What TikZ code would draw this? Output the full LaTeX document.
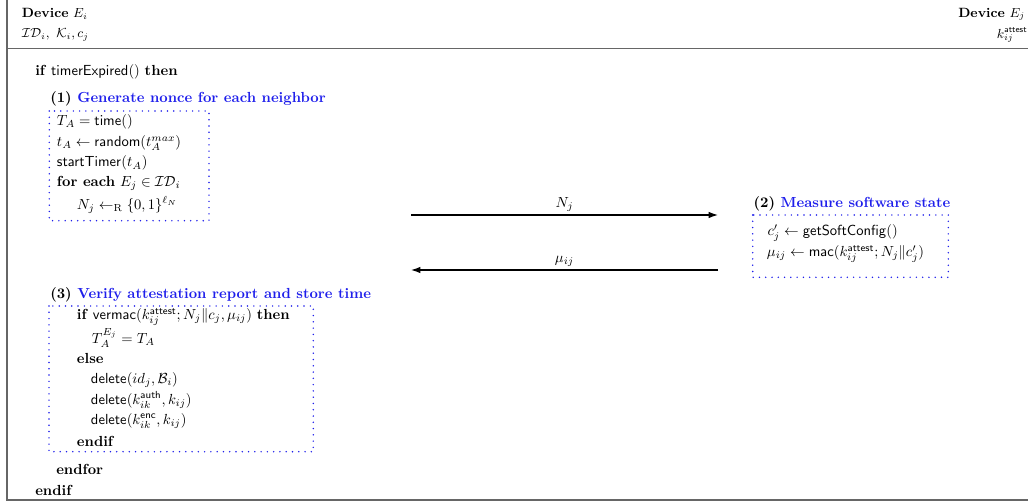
\documentclass[tikz,border=0pt]{standalone}
\usepackage{amsmath,amssymb}
\usetikzlibrary{arrows.meta}
\definecolor{hblue}{RGB}{30,30,235}
\begin{document}
\begin{tikzpicture}[x=0.685pt,y=-0.685pt,
  txt/.style={anchor=west,inner sep=0pt,font=\fontsize{10}{12}\selectfont},
  hdr/.style={anchor=west,inner sep=0pt,font=\fontsize{9.2}{11}\selectfont},
  head/.style={anchor=west,inner sep=0pt,font=\fontsize{10}{12}\selectfont\bfseries},
  dotbox/.style={draw=hblue,line width=1.1pt,line cap=round,dash pattern=on 0pt off 4.3pt},
  frame/.style={draw=black!60,line width=1.1pt},
  msg/.style={draw=black,line width=0.8pt,-{Latex[length=6.5pt,width=4.5pt]}},
  lbl/.style={font=\fontsize{10}{12}\selectfont,inner sep=2pt}]
\useasboundingbox (0,0) rectangle (1028,501);
\clip (0,0) rectangle (1028,501);
% frame
\draw[frame] (7,0) -- (7,500) -- (1030,500);
\draw[frame] (7,48.5) -- (1030,48.5);
% header
\node[hdr] (hdi) at (21.7,14) {\textbf{Device} $E_i$};
\node[hdr] (hki) at (21.7,35) {$\mathcal{ID}_i,\ \mathcal{K}_i, c_j$};
\node[hdr] (hdj) at (958,14) {\textbf{Device} $E_j$};
\node[hdr] (hkj) at (996.7,35) {$k_{ij}^{\mathsf{attest}}$};
% body
\node[txt] (l1) at (35,71.7) {\textbf{if} $\mathsf{timerExpired}()$ \textbf{then}};
\node[head] (s1) at (50,99.3) {(1) \textcolor{hblue}{Generate nonce for each neighbor}};
\draw[dotbox] (49.3,111) rectangle (209,220.7);
\node[txt] (a1) at (56.7,121.7) {$T_A = \mathsf{time}()$};
\node[txt] (a2) at (56.7,143.3) {$t_A \leftarrow \mathsf{random}(t_A^{max})$};
\node[txt] (a3) at (56.7,163.3) {$\mathsf{startTimer}(t_A)$};
\node[txt] (a4) at (56.7,183.3) {\textbf{for each} $E_j \in \mathcal{ID}_i$};
\node[txt] (a5) at (76.7,205) {$N_j \leftarrow_{\mathrm{R}} \{0,1\}^{\ell_N}$};
% messages
\coordinate (m1s) at (411,215);
\coordinate (m1e) at (718,215);
\coordinate (m2s) at (718,270);
\coordinate (m2e) at (411,270);
\draw[msg] (m1s) -- node[lbl,above] (n1) {$N_j$} (m1e);
\draw[msg] (m2s) -- node[lbl,above] (n2) {$\mu_{ij}$} (m2e);
% step 2
\node[head] (s2) at (753.3,204) {(2) \textcolor{hblue}{Measure software state}};
\draw[dotbox] (752.7,215) rectangle (948.3,277.3);
\node[txt] (b1) at (767.3,233.3) {$c'_j \leftarrow \mathsf{getSoftConfig}()$};
\node[txt] (b2) at (766.7,254) {$\mu_{ij} \leftarrow \mathsf{mac}(k_{ij}^{\mathsf{attest}}; N_j \| c'_j)$};
% step 3
\node[head] (s3) at (50,295) {(3) \textcolor{hblue}{Verify attestation report and store time}};
\draw[dotbox] (49,306) rectangle (313.3,451.7);
\node[txt] (c1) at (76.7,317) {\textbf{if} $\mathsf{vermac}(k_{ij}^{\mathsf{attest}}; N_j\|c_j, \mu_{ij})$ \textbf{then}};
\node[txt] (c2) at (91.7,338) {$T_A^{E_j} = T_A$};
\node[txt] (c3) at (76.7,358.3) {\textbf{else}};
\node[txt] (c4) at (90.7,380) {$\mathsf{delete}(id_j, \mathcal{B}_i)$};
\node[txt] (c5) at (90.7,400) {$\mathsf{delete}(k_{ik}^{\mathsf{auth}}, k_{ij})$};
\node[txt] (c6) at (90.7,420.7) {$\mathsf{delete}(k_{ik}^{\mathsf{enc}}, k_{ij})$};
\node[txt] (c7) at (76.7,441) {\textbf{endif}};
\node[txt] (l2) at (56,469.3) {\textbf{endfor}};
\node[txt] (l3) at (35,490) {\textbf{endif}};
\end{tikzpicture}
\end{document}
